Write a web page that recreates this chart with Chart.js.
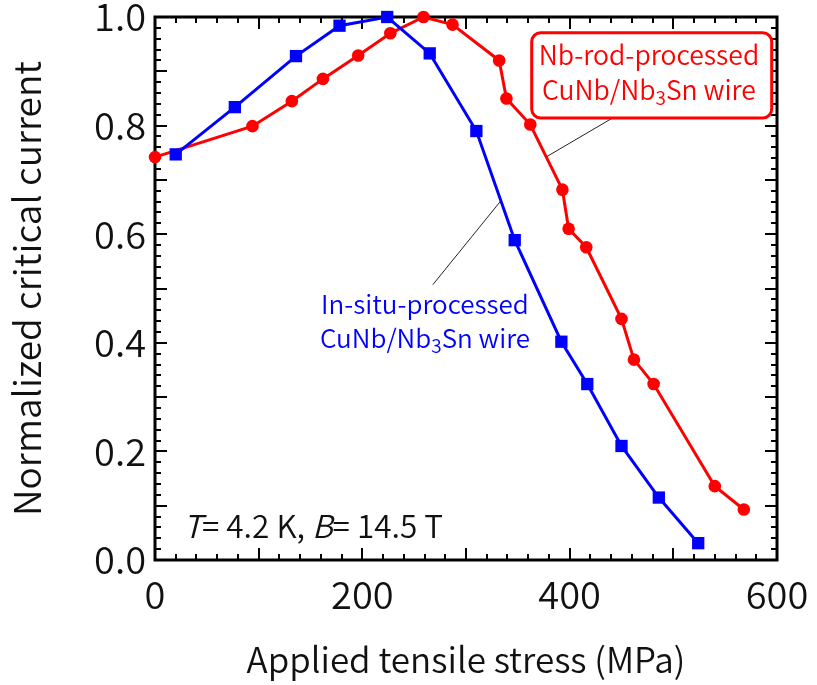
<!DOCTYPE html>
<html>
<head>
<meta charset="utf-8">
<script src="https://cdn.jsdelivr.net/npm/chart.js@4.4.1/dist/chart.umd.min.js"></script>
<style>
  html, body { margin: 0; padding: 0; background: #fff; }
  #wrap { width: 817px; height: 685px; }
</style>
</head>
<body>
<div id="wrap"><canvas id="stressChart"></canvas></div>
<script>
// In-situ-processed wire (blue squares)
const insituStress = [20, 77, 136, 178, 224, 265, 310, 347, 392, 417, 450, 486, 524];
const insituIc = [0.747, 0.834, 0.928, 0.984, 1.0, 0.933, 0.790, 0.589, 0.402, 0.324, 0.210, 0.115, 0.031];

// Nb-rod-processed wire (red circles)
const rodStress = [0, 94, 132, 162, 196, 227, 259, 287, 332, 339, 362, 393, 399, 416, 450, 462, 481, 540, 568];
const rodIc = [0.742, 0.799, 0.845, 0.886, 0.929, 0.970, 1.0, 0.986, 0.920, 0.850, 0.802, 0.682, 0.610, 0.576, 0.444, 0.369, 0.324, 0.136, 0.093];

const xTicks = [0, 200, 400, 600];
const yTicks = [0, 0.2, 0.4, 0.6, 0.8, 1.0];

const FONT = '"Noto Sans CJK JP", "Noto Sans", sans-serif';
const WEIGHT = 350;
Chart.defaults.font.family = FONT;
Chart.defaults.font.weight = WEIGHT;
Chart.defaults.color = "#111";

function toPoints(xs, ys) {
    return xs.map((x, i) => ({ x: x, y: ys[i] }));
}

// frame with inward ticks on all four sides
const frameTicks = {
    id: "frameTicks",
    beforeDatasetsDraw(chart) {
        const { ctx, chartArea: a, scales: { x, y } } = chart;
        ctx.save();
        ctx.strokeStyle = "#000";
        ctx.lineWidth = 2;
        ctx.beginPath();
        for (let v = 0; v <= 600; v += 20) {
            const px = Math.round(x.getPixelForValue(v));
            const len = v % 100 === 0 ? 12 : 6;
            ctx.moveTo(px, a.bottom); ctx.lineTo(px, a.bottom - len);
            ctx.moveTo(px, a.top); ctx.lineTo(px, a.top + len);
        }
        for (let i = 0; i <= 50; i++) {
            const py = Math.round(y.getPixelForValue(i * 0.02));
            const len = i % 5 === 0 ? 12 : 6;
            ctx.moveTo(a.left, py); ctx.lineTo(a.left + len, py);
            ctx.moveTo(a.right, py); ctx.lineTo(a.right - len, py);
        }
        ctx.stroke();
        ctx.lineWidth = 3;
        ctx.strokeRect(a.left, a.top, a.right - a.left, a.bottom - a.top);
        ctx.restore();
    }
};

// draws text with a subscript part, centred on cx
function richText(ctx, parts, cx, cy, size) {
    let w = 0;
    parts.forEach(p => {
        ctx.font = WEIGHT + " " + (p.sub ? Math.round(size * 0.72) : size) + "px " + FONT;
        p.w = ctx.measureText(p.t).width;
        w += p.w;
    });
    let px = cx - w / 2;
    ctx.textAlign = "left";
    ctx.textBaseline = "middle";
    parts.forEach(p => {
        ctx.font = WEIGHT + " " + (p.sub ? Math.round(size * 0.72) : size) + "px " + FONT;
        ctx.fillText(p.t, px, p.sub ? cy + size * 0.3 : cy);
        px += p.w;
    });
}

const notes = {
    id: "notes",
    afterDatasetsDraw(chart) {
        const { ctx, scales: { x, y } } = chart;
        const X = v => x.getPixelForValue(v);
        const Y = v => y.getPixelForValue(v);
        ctx.save();

        // leader lines
        ctx.strokeStyle = "#222";
        ctx.lineWidth = 1;
        ctx.beginPath();
        ctx.moveTo(X(461), Y(0.836)); ctx.lineTo(X(378), Y(0.743));
        ctx.moveTo(X(268), Y(0.507)); ctx.lineTo(X(333), Y(0.660));
        ctx.stroke();

        // red label box
        ctx.fillStyle = "#fff";
        ctx.strokeStyle = "#f00";
        ctx.lineWidth = 3;
        ctx.beginPath();
        ctx.roundRect(X(363.4), Y(0.971), X(594.9) - X(363.4), Y(0.814) - Y(0.971), 9);
        ctx.fill();
        ctx.stroke();

        ctx.fillStyle = "#f00";
        richText(ctx, [{ t: "Nb-rod-processed" }], X(476.5), Y(0.931), 26.5);
        richText(ctx, [{ t: "CuNb/Nb" }, { t: "3", sub: true }, { t: "Sn wire" }], X(476.5), Y(0.866), 26.5);

        ctx.fillStyle = "#00f";
        richText(ctx, [{ t: "In-situ-processed" }], X(260.4), Y(0.472), 26);
        richText(ctx, [{ t: "CuNb/Nb" }, { t: "3", sub: true }, { t: "Sn wire" }], X(260.4), Y(0.409), 26);

        // measurement conditions
        ctx.fillStyle = "#111";
        ctx.textBaseline = "middle";
        ctx.textAlign = "left";
        let tx = X(27.3);
        const ty = Y(0.063);
        const seg = [["italic", "T"], ["", "= 4.2 K, "], ["italic", "B"], ["", "= 14.5 T"]];
        seg.forEach(s => {
            ctx.font = (s[0] ? "italic " : "") + WEIGHT + " 31.5px " + FONT;
            ctx.fillText(s[1], tx, ty);
            tx += ctx.measureText(s[1]).width;
        });
        ctx.restore();
    }
};

const ctx = document.getElementById("stressChart");

new Chart(ctx, {
    type: "line",
    data: {
        datasets: [{
            label: "In-situ-processed CuNb/Nb3Sn wire",
            data: toPoints(insituStress, insituIc),
            borderColor: "#0000ff",
            backgroundColor: "#0000ff",
            borderWidth: 3,
            pointStyle: "rect",
            pointRadius: 8.7,
            pointBorderWidth: 0,
            tension: 0,
            clip: false
        }, {
            label: "Nb-rod-processed CuNb/Nb3Sn wire",
            data: toPoints(rodStress, rodIc),
            borderColor: "#ff0000",
            backgroundColor: "#ff0000",
            borderWidth: 3,
            pointStyle: "circle",
            pointRadius: 6.3,
            pointBorderWidth: 0,
            tension: 0,
            clip: false
        }]
    },
    options: {
        responsive: true,
        maintainAspectRatio: false,
        animation: false,
        events: [],
        layout: { padding: { top: 17, right: 40, left: 0, bottom: 0 } },
        plugins: { legend: { display: false }, tooltip: { enabled: false } },
        scales: {
            x: {
                type: "linear",
                min: 0,
                max: 600,
                afterBuildTicks: s => { s.ticks = xTicks.map(v => ({ value: v })); },
                grid: { display: false, drawTicks: false },
                border: { display: false },
                ticks: { font: { size: 38 }, padding: 12, color: "#111" },
                title: {
                    display: true,
                    text: "Applied tensile stress (MPa)",
                    font: { size: 35 },
                    color: "#111",
                    padding: { top: 0, bottom: 4 }
                },
                afterFit: s => { s.height = 125; s.paddingLeft = 0; s.paddingRight = 0; }
            },
            y: {
                min: 0,
                max: 1,
                afterBuildTicks: s => { s.ticks = yTicks.map(v => ({ value: v })); },
                grid: { display: false, drawTicks: false },
                border: { display: false },
                ticks: { font: { size: 38 }, padding: 9, color: "#111", callback: v => v.toFixed(1) },
                title: {
                    display: true,
                    text: "Normalized critical current",
                    font: { size: 37 },
                    color: "#111",
                    padding: { top: 5, bottom: 0 }
                },
                afterFit: s => { s.width = 155; s.paddingTop = 0; s.paddingBottom = 0; }
            }
        }
    },
    plugins: [frameTicks, notes]
});
</script>
</body>
</html>
